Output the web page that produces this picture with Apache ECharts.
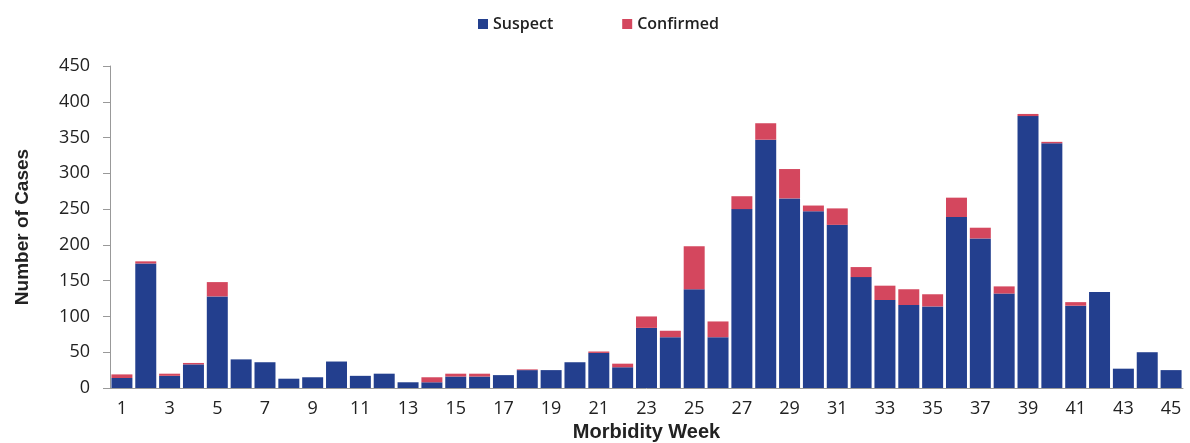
<!DOCTYPE html>
<html>
<head>
<meta charset="utf-8">
<script src="https://cdn.jsdelivr.net/npm/echarts@6/dist/echarts.min.js"></script>
<style>
  html, body { margin: 0; padding: 0; background: #fff; }
  #chart { width: 1190px; height: 443px; }
</style>
</head>
<body>
<div id="chart"></div>
<script>
// morbidity weeks 1..45
const weeks = Array.from({ length: 45 }, (_, i) => String(i + 1));

const suspect = [14, 174, 17, 33, 128, 40, 36, 13, 15, 37, 17, 20, 8, 8, 16, 16, 18, 25, 25, 36,
  49, 29, 84, 71, 138, 71, 250, 347, 265, 247, 228, 155, 123, 116, 114, 239, 209, 132, 380, 342,
  115, 134, 27, 50, 25];

const confirmed = [5, 3, 3, 2, 20, 0, 0, 0, 0, 0, 0, 0, 0, 7, 4, 4, 0, 1, 0, 0,
  2, 5, 16, 9, 60, 22, 18, 23, 41, 8, 23, 14, 20, 22, 17, 27, 15, 10, 3, 2,
  5, 0, 0, 0, 0];

const chart = echarts.init(document.getElementById("chart"));

chart.setOption({
  animation: false,
  color: ["#233f8e", "#d4475e"],
  legend: {
    top: 11,
    left: 473,
    itemGap: 69,
    itemWidth: 10,
    itemHeight: 10,
    icon: "rect",
    textStyle: { fontFamily: "Open Sans", fontWeight: 600, fontSize: 16, color: "#222" },
    data: ["Suspect", "Confirmed"],
  },
  // keep the plot box fixed, labels may sit outside it
  grid: { left: 110, right: 7, top: 66, bottom: 55, containLabel: false, outerBoundsMode: "none" },
  xAxis: {
    type: "category",
    data: weeks,
    name: "Morbidity Week",
    nameLocation: "middle",
    nameGap: 33,
    nameTextStyle: { fontFamily: "Liberation Sans", fontWeight: "bold", fontSize: 20, color: "#222" },
    axisLine: { lineStyle: { color: "#999" } },
    axisTick: { length: 6, lineStyle: { color: "#999" } },
    axisLabel: { interval: 1, margin: 12, fontFamily: "Open Sans", fontSize: 18, color: "#222" },
  },
  yAxis: {
    type: "value",
    min: 0,
    max: 450,
    interval: 50,
    name: "Number of Cases",
    nameLocation: "middle",
    nameGap: 78,
    nameTextStyle: { fontFamily: "Liberation Sans", fontWeight: "bold", fontSize: 19, color: "#222" },
    splitLine: { show: false },
    axisLine: { show: true, lineStyle: { color: "#999" } },
    axisTick: { show: true, length: 7, lineStyle: { color: "#999" } },
    axisLabel: { margin: 20, fontFamily: "Open Sans", fontSize: 18, color: "#222" },
  },
  series: [
    {
      name: "Suspect",
      type: "bar",
      stack: "cases",
      barCategoryGap: "12%",
      data: suspect,
    },
    {
      name: "Confirmed",
      type: "bar",
      stack: "cases",
      data: confirmed,
    },
  ],
});
</script>
</body>
</html>
